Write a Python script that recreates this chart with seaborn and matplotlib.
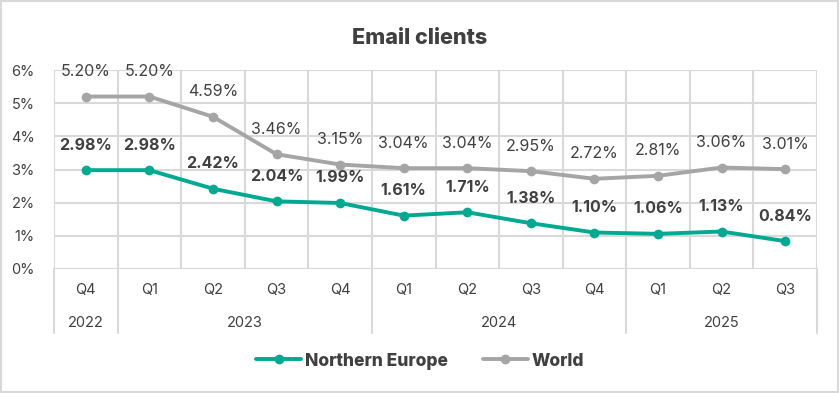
import pandas as pd
import seaborn as sns
import matplotlib.pyplot as plt
from matplotlib.patches import Rectangle
from matplotlib.ticker import FixedLocator

quarters = ["Q4", "Q1", "Q2", "Q3", "Q4", "Q1", "Q2", "Q3", "Q4", "Q1", "Q2", "Q3"]
years = ["2022", "2023", "2024", "2025"]
year_spans = [(0, 0), (1, 4), (5, 8), (9, 11)]
northern_europe = [2.98, 2.98, 2.42, 2.04, 1.99, 1.61, 1.71, 1.38, 1.10, 1.06, 1.13, 0.84]
world = [5.20, 5.20, 4.59, 3.46, 3.15, 3.04, 3.04, 2.95, 2.72, 2.81, 3.06, 3.01]

teal = "#00A98F"
grey = "#A5A5A5"
txt = "#404040"
gridc = "#D9D9D9"

df = pd.DataFrame({
    "idx": list(range(12)) * 2,
    "value": northern_europe + world,
    "series": ["Northern Europe"] * 12 + ["World"] * 12,
})

sns.set_style("white")
plt.rcParams["font.family"] = ["Inter", "DejaVu Sans"]

W, H = 840, 393
fig = plt.figure(figsize=(8.4, 3.93), dpi=100)
ax = fig.add_axes([54 / W, (H - 269) / H, (817 - 54) / W, (269 - 70) / H])

sns.lineplot(data=df, x="idx", y="value", hue="series",
             palette={"Northern Europe": teal, "World": grey},
             marker="o", markersize=7, markeredgewidth=0, linewidth=2.8,
             ax=ax, legend=False, zorder=3)

for i, (n, w) in enumerate(zip(northern_europe, world)):
    ax.annotate(f"{w:.2f}%", (i, w), xytext=(0, 18), textcoords="offset points",
                ha="center", va="center", fontsize=11.5, color=txt)
    ax.annotate(f"{n:.2f}%", (i, n), xytext=(0, 18), textcoords="offset points",
                ha="center", va="center", fontsize=11.5, color=txt, fontweight="bold")

ax.set_xlim(-0.5, 11.5)
ax.set_ylim(0, 6)
ax.set_yticks(range(7))
ax.set_yticklabels([f"{v}%" for v in range(7)], fontsize=10.5, color=txt)
ax.set_xticks([])
ax.xaxis.set_minor_locator(FixedLocator([i + 0.5 for i in range(-1, 12)]))
ax.grid(True, which="major", axis="y", color=gridc, linewidth=1.5)
ax.grid(True, which="minor", axis="x", color=gridc, linewidth=1.5)
ax.tick_params(axis="both", which="both", length=0)
ax.tick_params(axis="y", pad=14)
ax.set_xlabel("")
ax.set_ylabel("")
for s in ax.spines.values():
    s.set_visible(False)

# multi-level category axis
trans = ax.get_xaxis_transform()
for i, q in enumerate(quarters):
    ax.text(i, -0.105, q, transform=trans, ha="center", va="center",
            fontsize=10.5, color=txt)
for y, (a, b) in zip(years, year_spans):
    ax.text((a + b) / 2, -0.27, y, transform=trans, ha="center", va="center",
            fontsize=10.5, color=txt)
for xb in [-0.5, 0.5, 4.5, 8.5, 11.5]:
    ax.plot([xb, xb], [0, -(333 - 269) / (269 - 70)], transform=trans,
            color=gridc, linewidth=1.5, clip_on=False)

fig.text(0.5, (H - 38) / H, "Email clients", ha="center", va="center",
         fontsize=15.5, fontweight="heavy", color=txt)

# legend
handles = [plt.Line2D([], [], color=teal, marker="o", markersize=6, linewidth=2.8),
           plt.Line2D([], [], color=grey, marker="o", markersize=6, linewidth=2.8)]
leg = fig.legend(handles, ["Northern Europe", "World"], loc="center",
                 bbox_to_anchor=(0.5, (H - 361) / H), ncol=2, frameon=False,
                 handlelength=2.6, handletextpad=0.2, columnspacing=2.0,
                 prop={"weight": "heavy", "size": 12.5})
for t in leg.get_texts():
    t.set_color(txt)

fig.patches.append(Rectangle((0.001, 0.002), 0.997, 0.995, transform=fig.transFigure,
                             fill=False, edgecolor=gridc, linewidth=1.5))

fig.savefig("out.png", dpi=100)
